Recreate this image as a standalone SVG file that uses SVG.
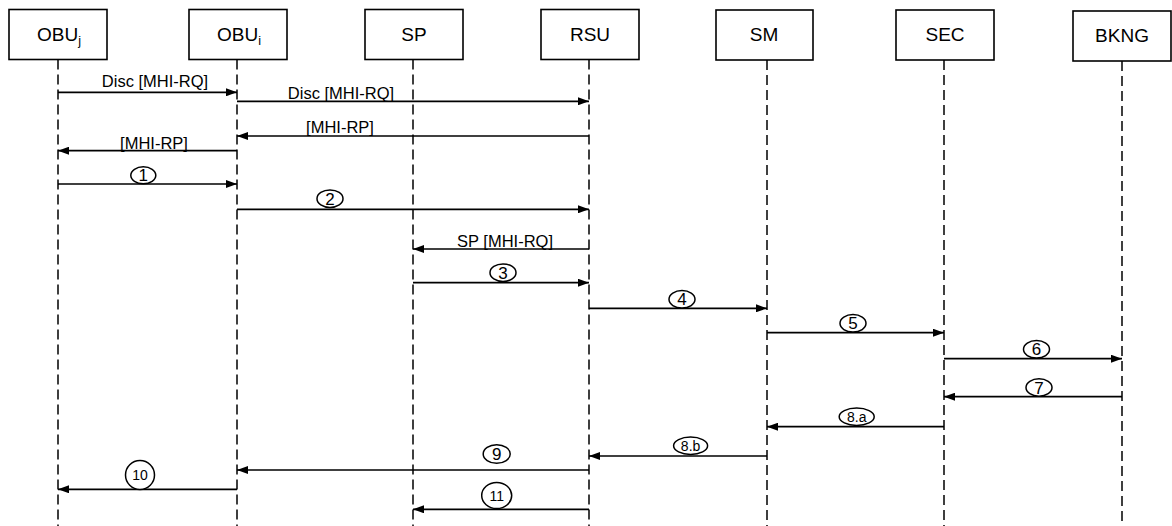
<svg xmlns="http://www.w3.org/2000/svg" width="1172" height="526" viewBox="0 0 1172 526">
<style>
.box{fill:#fff;stroke:#000;stroke-width:1.6}
.life{stroke:#000;stroke-width:1.5;stroke-dasharray:10 5;fill:none}
.msg{stroke:#000;stroke-width:1.7;fill:none;marker-end:url(#ah)}
.nt{font-family:"Liberation Sans",Arial,sans-serif;font-size:19px;fill:#000;text-anchor:middle}
.lb{font-family:"Liberation Sans",Arial,sans-serif;font-size:16.5px;fill:#000;text-anchor:middle}
.ov{fill:#fff;stroke:#000;stroke-width:1.5}
.n1{font-family:"Liberation Sans",Arial,sans-serif;font-size:17px;fill:#000;text-anchor:middle}
.n2{font-family:"Liberation Sans",Arial,sans-serif;font-size:14px;fill:#000;text-anchor:middle}
</style>
<defs>
<marker id="ah" viewBox="0 0 11 8" refX="11" refY="4" markerWidth="11" markerHeight="8" orient="auto" markerUnits="userSpaceOnUse">
<path d="M0,0 L11,4 L0,8 Z" fill="#000"/>
</marker>
</defs>
<rect width="1172" height="526" fill="#fff"/>
<g id="OBUj">
<rect class="box" x="9" y="9.5" width="98" height="50"/>
<text class="nt" x="59" y="40.5">OBU<tspan font-size="12.5" dy="4">j</tspan></text>
<line class="life" x1="58" y1="59.5" x2="58" y2="526"/>
</g>
<g id="OBUi">
<rect class="box" x="189" y="9.5" width="98" height="50"/>
<text class="nt" x="239" y="40.5">OBU<tspan font-size="12.5" dy="4">i</tspan></text>
<line class="life" x1="237" y1="59.5" x2="237" y2="526"/>
</g>
<g id="SP">
<rect class="box" x="365" y="9.5" width="98" height="50"/>
<text class="nt" x="414" y="40.5">SP</text>
<line class="life" x1="413" y1="59.5" x2="413" y2="526"/>
</g>
<g id="RSU">
<rect class="box" x="541" y="9.5" width="98" height="50"/>
<text class="nt" x="590" y="40.5">RSU</text>
<line class="life" x1="589" y1="59.5" x2="589" y2="526"/>
</g>
<g id="SM">
<rect class="box" x="716" y="10" width="97" height="50"/>
<text class="nt" x="764" y="41">SM</text>
<line class="life" x1="767" y1="60" x2="767" y2="526"/>
</g>
<g id="SEC">
<rect class="box" x="896" y="10" width="98" height="50"/>
<text class="nt" x="945" y="41">SEC</text>
<line class="life" x1="944" y1="60" x2="944" y2="526"/>
</g>
<g id="BKNG">
<rect class="box" x="1073" y="11" width="98" height="50"/>
<text class="nt" x="1122" y="42">BKNG</text>
<line class="life" x1="1122" y1="61" x2="1122" y2="526"/>
</g>
<g id="connectors">
<line class="msg" x1="58" y1="92.3" x2="237" y2="92.3"/>
<line class="msg" x1="237" y1="101.3" x2="589" y2="101.3"/>
<line class="msg" x1="589" y1="136" x2="237" y2="136"/>
<line class="msg" x1="237" y1="150.7" x2="58" y2="150.7"/>
<line class="msg" x1="58" y1="184" x2="237" y2="184"/>
<line class="msg" x1="237" y1="209.3" x2="589" y2="209.3"/>
<line class="msg" x1="589" y1="249" x2="413" y2="249"/>
<line class="msg" x1="413" y1="282.7" x2="589" y2="282.7"/>
<line class="msg" x1="589" y1="308.3" x2="767" y2="308.3"/>
<line class="msg" x1="767" y1="332.7" x2="944" y2="332.7"/>
<line class="msg" x1="944" y1="358.7" x2="1122" y2="358.7"/>
<line class="msg" x1="1122" y1="396.7" x2="944" y2="396.7"/>
<line class="msg" x1="944" y1="426.7" x2="767" y2="426.7"/>
<line class="msg" x1="767" y1="456" x2="589" y2="456"/>
<line class="msg" x1="589" y1="470" x2="237" y2="470"/>
<line class="msg" x1="237" y1="489.3" x2="58" y2="489.3"/>
<line class="msg" x1="589" y1="509.3" x2="413" y2="509.3"/>
</g>
<g id="labels">
<text class="lb" x="155" y="87">Disc [MHI-RQ]</text>
<text class="lb" x="341" y="98.5">Disc [MHI-RQ]</text>
<text class="lb" x="340" y="133">[MHI-RP]</text>
<text class="lb" x="154" y="148.5">[MHI-RP]</text>
<text class="lb" x="505" y="246.5">SP [MHI-RQ]</text>
</g>
<g id="steps">
<ellipse class="ov" cx="143.3" cy="175.3" rx="12.5" ry="8.5"/>
<text class="n1" x="143.3" y="181.3">1</text>
<ellipse class="ov" cx="330" cy="198.7" rx="13" ry="8.8"/>
<text class="n1" x="330" y="204.7">2</text>
<ellipse class="ov" cx="503" cy="272.7" rx="13" ry="8.8"/>
<text class="n1" x="503" y="278.7">3</text>
<ellipse class="ov" cx="682" cy="299.3" rx="13" ry="8.8"/>
<text class="n1" x="682" y="305.3">4</text>
<ellipse class="ov" cx="853" cy="323.3" rx="13" ry="8.8"/>
<text class="n1" x="853" y="329.3">5</text>
<ellipse class="ov" cx="1036.5" cy="349.3" rx="13" ry="8.8"/>
<text class="n1" x="1036.5" y="355.3">6</text>
<ellipse class="ov" cx="1039" cy="387.5" rx="13" ry="8.8"/>
<text class="n1" x="1039" y="393.5">7</text>
<ellipse class="ov" cx="856.7" cy="416.7" rx="17.5" ry="8.7"/>
<text class="n2" x="856.7" y="421.7">8.a</text>
<ellipse class="ov" cx="690.6" cy="445.7" rx="17" ry="8.7"/>
<text class="n2" x="690.6" y="450.7">8.b</text>
<ellipse class="ov" cx="496.7" cy="454" rx="13.5" ry="9.2"/>
<text class="n1" x="496.7" y="460">9</text>
<ellipse class="ov" cx="140" cy="475" rx="14.5" ry="14.5"/>
<text class="n2" x="140" y="480">10</text>
<ellipse class="ov" cx="496.7" cy="495.5" rx="15" ry="13"/>
<text class="n2" x="496.7" y="500.5">11</text>
</g>
</svg>
